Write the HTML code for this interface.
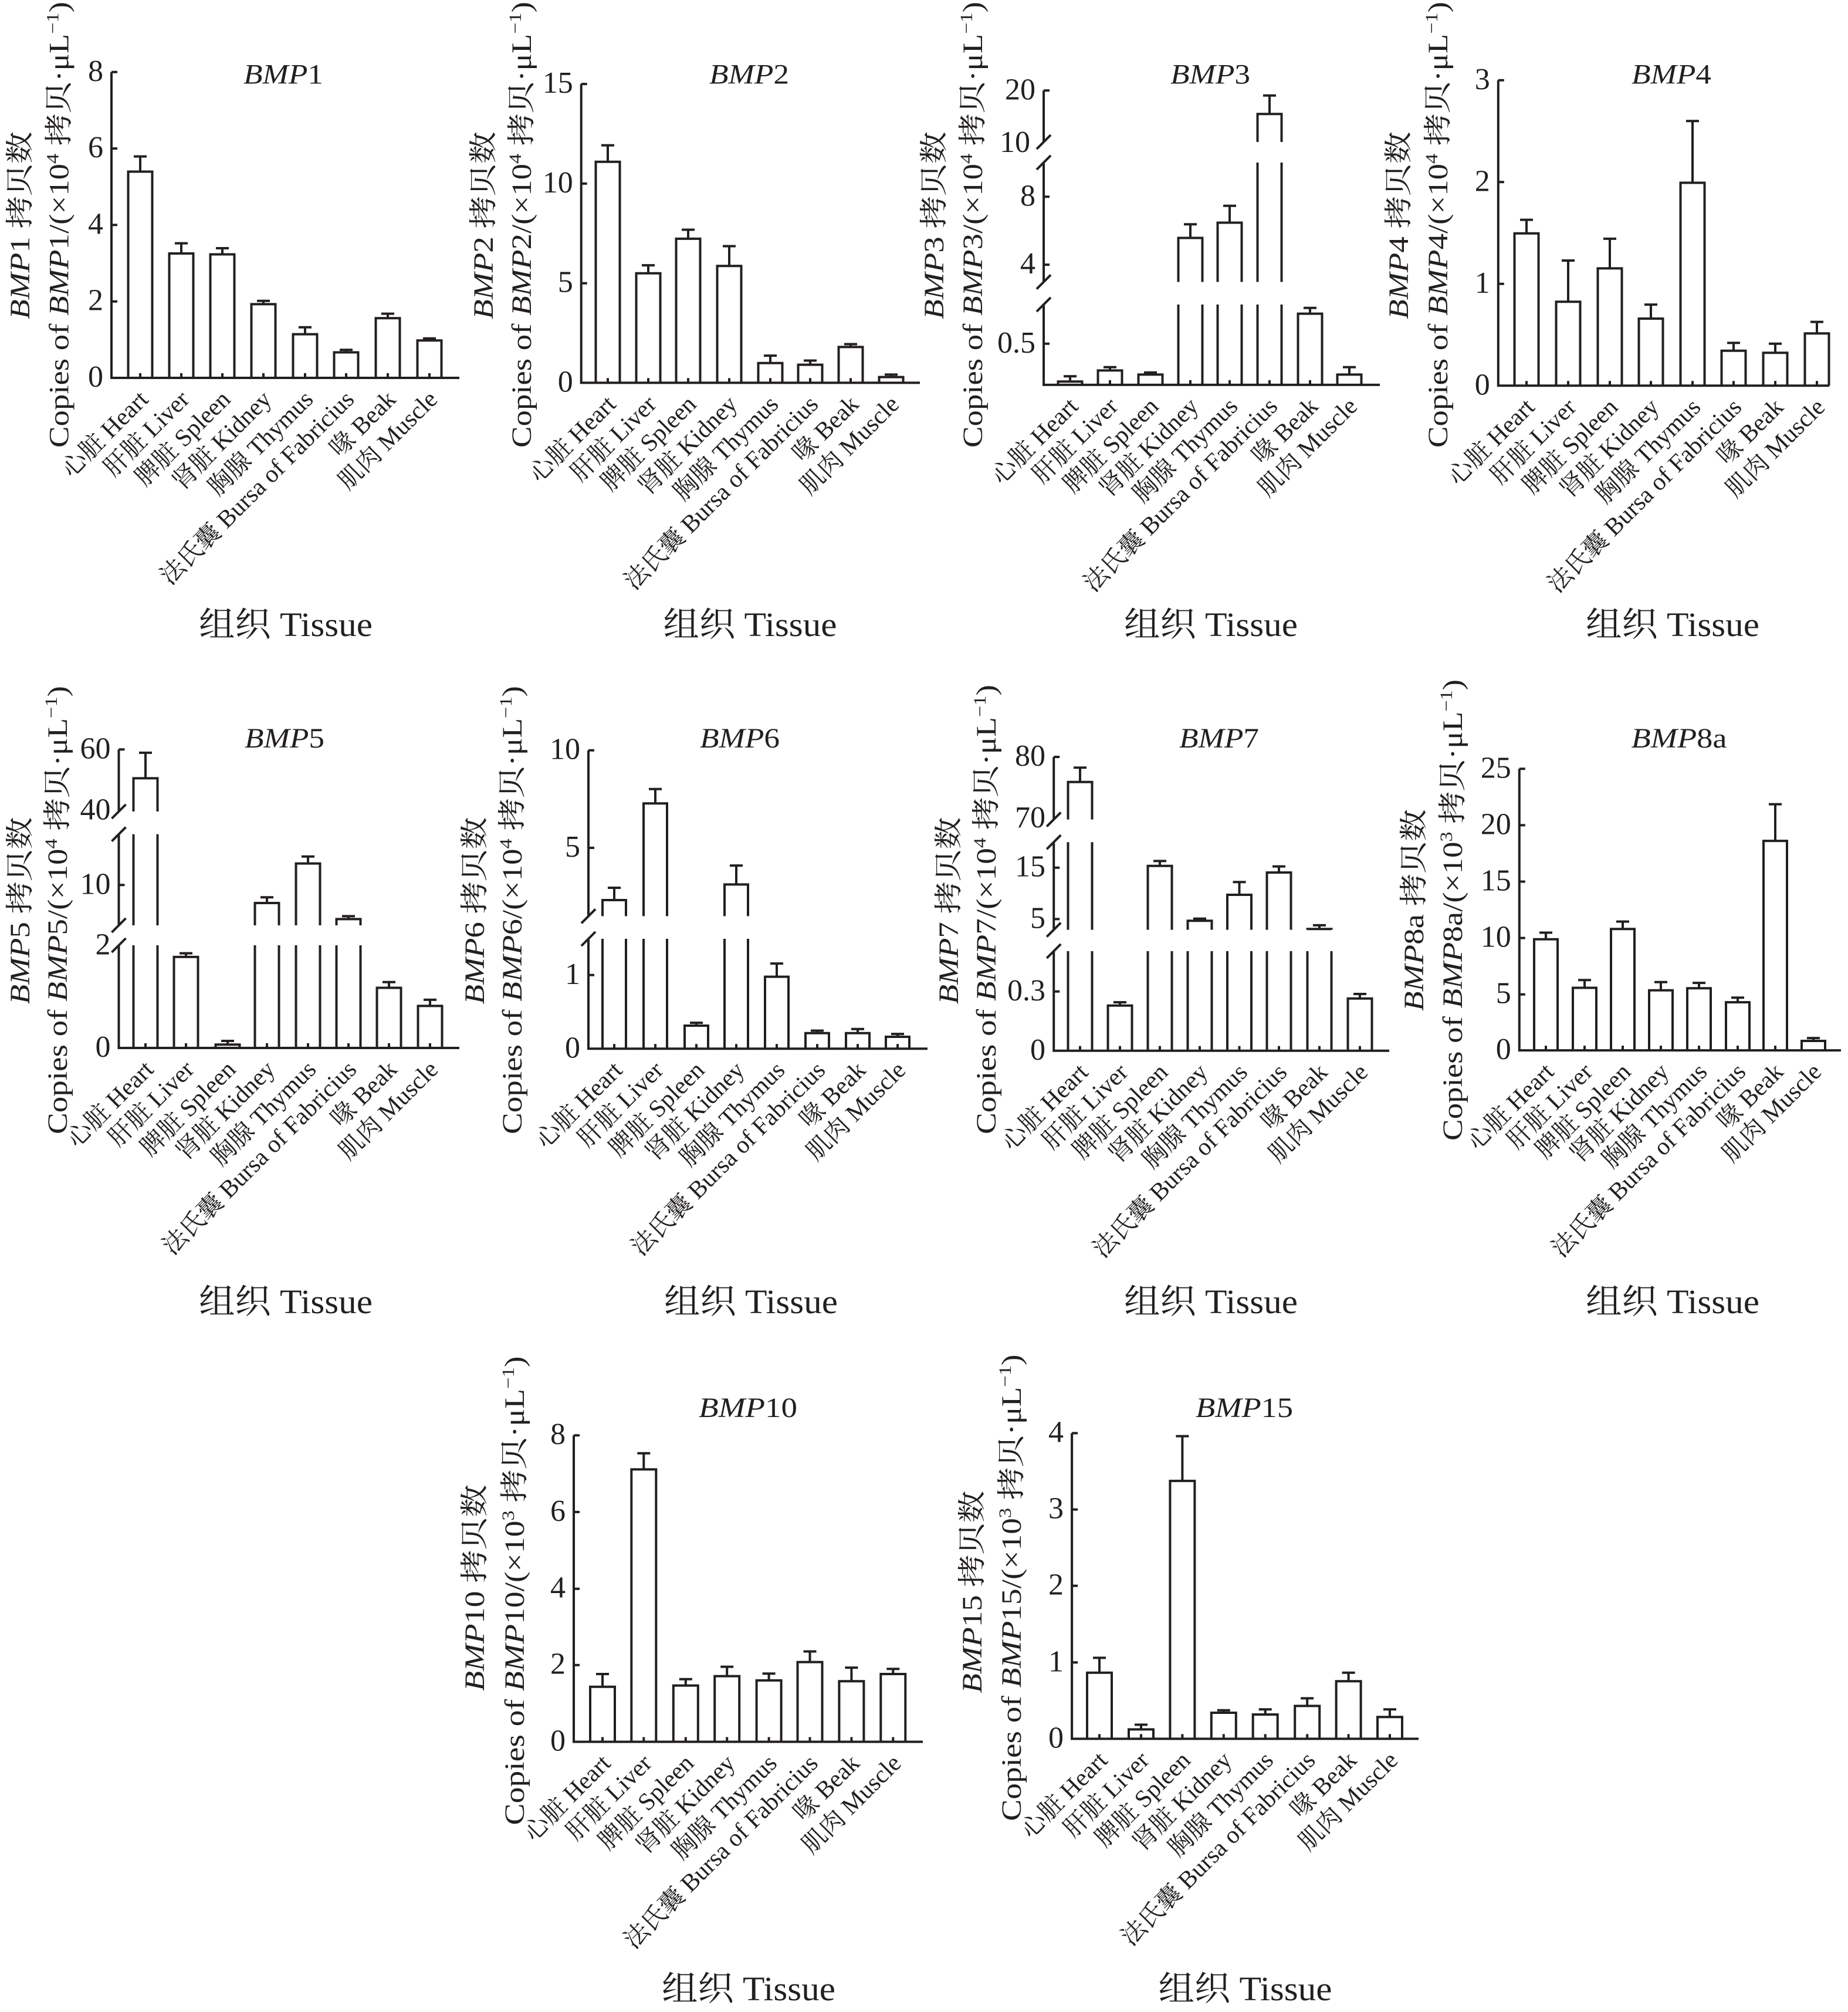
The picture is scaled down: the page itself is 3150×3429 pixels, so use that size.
<!DOCTYPE html>
<html><head><meta charset="utf-8"><style>
html,body{margin:0;padding:0;background:#fff}
svg{display:block}
text{fill:#231f20;font-family:"Liberation Serif","Noto Serif CJK SC",serif}
.t{font-size:52px}
.c{font-size:42px}
.ti{font-size:48px}
.ts{font-size:58px}
.y{font-size:48px}
.s{font-size:30px}
.i{font-style:italic}
path{stroke:#231f20;stroke-width:4;fill:none}
</style></head><body>
<svg width="3150" height="3429" viewBox="0 0 3150 3429" xmlns="http://www.w3.org/2000/svg">
<rect width="3150" height="3429" fill="#fff"/>

<!-- ============ BMP1 ============ -->
<path d="M190 122.8V644M188 644H783M190 122.8H200M190 253.1H200M190 383.4H200M190 513.7H200"/>
<path d="M218.5 644V292.5H259.5V644M239 292.5V266.6M228 266.6H250M239 644V636M288.5 644V432H329.5V644M309 432V414.6M298 414.6H320M309 644V636M358.5 644V433.5H399.5V644M379 433.5V423M368 423H390M379 644V636M428.5 644V518.4H469.5V644M449 518.4V512.8M438 512.8H460M449 644V636M499.5 644V569.6H540.5V644M520 569.6V557.7M509 557.7H531M520 644V636M569.5 644V600.5H610.5V644M590 600.5V596.3M579 596.3H601M590 644V636M640.5 644V542.3H681.5V644M661 542.3V534.6M650 534.6H672M661 644V636M711.5 644V580.2H752.5V644M732 580.2V576.7M721 576.7H743M732 644V636"/>
<g class="t" text-anchor="end"><text x="176" y="137.8">8</text><text x="176" y="268.1">6</text><text x="176" y="398.4">4</text><text x="176" y="528.7">2</text><text x="176" y="659">0</text></g>
<text class="ti" x="483" y="142.4" text-anchor="middle" textLength="136" lengthAdjust="spacingAndGlyphs"><tspan class="i">BMP</tspan>1</text>
<text class="y" transform="translate(116.5 383) rotate(-90)" text-anchor="middle" textLength="760" lengthAdjust="spacingAndGlyphs">Copies of <tspan class="i">BMP</tspan>1/(×10<tspan class="s" dy="-17">4</tspan><tspan dy="17"> 拷贝·μL</tspan><tspan class="s" dy="-17">−1</tspan><tspan dy="17">)</tspan></text>
<text class="y" transform="translate(50 384) rotate(-90)" text-anchor="middle" textLength="320" lengthAdjust="spacingAndGlyphs"><tspan class="i">BMP</tspan>1 拷贝数</text>
<g class="c" text-anchor="end">
<text transform="translate(255 683) rotate(-45)">心脏 Heart</text>
<text transform="translate(325 683) rotate(-45)">肝脏 Liver</text>
<text transform="translate(395 683) rotate(-45)">脾脏 Spleen</text>
<text transform="translate(465 683) rotate(-45)">肾脏 Kidney</text>
<text transform="translate(536 683) rotate(-45)">胸腺 Thymus</text>
<text transform="translate(606 683) rotate(-45)">法氏囊 Bursa of Fabricius</text>
<text transform="translate(677 683) rotate(-45)">喙 Beak</text>
<text transform="translate(748 683) rotate(-45)">肌肉 Muscle</text>
</g>
<text class="ts" x="487" y="1084" text-anchor="middle" textLength="296" lengthAdjust="spacingAndGlyphs">组织 Tissue</text>

<!-- ============ BMP2 ============ -->
<path d="M990.7 143.1V652.4M988.7 652.4H1568M990.7 143.1H1000.7M990.7 312.9H1000.7M990.7 482.7H1000.7"/>
<path d="M1015.5 652.4V275.7H1056.5V652.4M1036 275.7V247.6M1025 247.6H1047M1036 652.4V644.4M1084.5 652.4V465.7H1125.5V652.4M1105 465.7V452.1M1094 452.1H1116M1105 652.4V644.4M1152.5 652.4V406.9H1193.5V652.4M1173 406.9V391.5M1162 391.5H1184M1173 652.4V644.4M1222.5 652.4V453.2H1263.5V652.4M1243 453.2V419.5M1232 419.5H1254M1243 652.4V644.4M1292.5 652.4V618.7H1333.5V652.4M1313 618.7V606.1M1302 606.1H1324M1313 652.4V644.4M1360.5 652.4V621.6H1401.5V652.4M1381 621.6V614.5M1370 614.5H1392M1381 652.4V644.4M1429.5 652.4V591.4H1470.5V652.4M1450 591.4V586.5M1439 586.5H1461M1450 652.4V644.4M1498.5 652.4V642.6H1539.5V652.4M1519 642.6V638.4M1508 638.4H1530"/>
<g class="t" text-anchor="end"><text x="976.7" y="158.1">15</text><text x="976.7" y="327.9">10</text><text x="976.7" y="497.7">5</text><text x="976.7" y="667.4">0</text></g>
<text class="ti" x="1277" y="142.4" text-anchor="middle" textLength="136" lengthAdjust="spacingAndGlyphs"><tspan class="i">BMP</tspan>2</text>
<text class="y" transform="translate(905 383) rotate(-90)" text-anchor="middle" textLength="760" lengthAdjust="spacingAndGlyphs">Copies of <tspan class="i">BMP</tspan>2/(×10<tspan class="s" dy="-17">4</tspan><tspan dy="17"> 拷贝·μL</tspan><tspan class="s" dy="-17">−1</tspan><tspan dy="17">)</tspan></text>
<text class="y" transform="translate(840 384) rotate(-90)" text-anchor="middle" textLength="320" lengthAdjust="spacingAndGlyphs"><tspan class="i">BMP</tspan>2 拷贝数</text>
<g class="c" text-anchor="end">
<text transform="translate(1052 691.4) rotate(-45)">心脏 Heart</text>
<text transform="translate(1121 691.4) rotate(-45)">肝脏 Liver</text>
<text transform="translate(1189 691.4) rotate(-45)">脾脏 Spleen</text>
<text transform="translate(1259 691.4) rotate(-45)">肾脏 Kidney</text>
<text transform="translate(1329 691.4) rotate(-45)">胸腺 Thymus</text>
<text transform="translate(1397 691.4) rotate(-45)">法氏囊 Bursa of Fabricius</text>
<text transform="translate(1466 691.4) rotate(-45)">喙 Beak</text>
<text transform="translate(1535 691.4) rotate(-45)">肌肉 Muscle</text>
</g>
<text class="ts" x="1278.5" y="1084" text-anchor="middle" textLength="296" lengthAdjust="spacingAndGlyphs">组织 Tissue</text>

<!-- ============ BMP3 ============ -->
<path d="M1779 154.3V242M1779 277V480.5M1779 519V655.9M1777 655.9H2352M1779 154.3H1789M1779 335.3H1789M1779 451.1H1789M1779 585.8H1789M1767 254L1791 230M1767 289L1791 265M1767 492.5L1791 468.5M1767 531L1791 507"/>
<path d="M1803.5 655.9V650.3H1844.5V655.9M1824 650.3V641.2M1813 641.2H1835M1871.5 655.9V631.4H1912.5V655.9M1892 631.4V625.8M1881 625.8H1903M1892 655.9V647.9M1940.5 655.9V638.4H1981.5V655.9M1961 638.4V634.9M1950 634.9H1972M2008.5 655.9V519M2049.5 655.9V519M2008.5 480.5V405.5H2049.5V480.5M2029 405.5V382.3M2018 382.3H2040M2029 655.9V647.9M2075.5 655.9V519M2116.5 655.9V519M2075.5 480.5V379.5H2116.5V480.5M2096 379.5V350.8M2085 350.8H2107M2096 655.9V647.9M2143.5 655.9V519M2184.5 655.9V519M2143.5 480.5V277M2184.5 480.5V277M2143.5 242V194.3H2184.5V242M2164 194.3V162.8M2153 162.8H2175M2164 655.9V647.9M2212.5 655.9V534.6H2253.5V655.9M2233 534.6V524.7M2222 524.7H2244M2233 655.9V647.9M2279.5 655.9V638.4H2320.5V655.9M2300 638.4V625.8M2289 625.8H2311"/>
<g class="t" text-anchor="end"><text x="1765" y="169.3">20</text><text x="1756" y="259">10</text><text x="1765" y="350.3">8</text><text x="1765" y="466.1">4</text><text x="1765" y="600.8">0.5</text></g>
<text class="ti" x="2063" y="142.4" text-anchor="middle" textLength="136" lengthAdjust="spacingAndGlyphs"><tspan class="i">BMP</tspan>3</text>
<text class="y" transform="translate(1674 383) rotate(-90)" text-anchor="middle" textLength="760" lengthAdjust="spacingAndGlyphs">Copies of <tspan class="i">BMP</tspan>3/(×10<tspan class="s" dy="-17">4</tspan><tspan dy="17"> 拷贝·μL</tspan><tspan class="s" dy="-17">−1</tspan><tspan dy="17">)</tspan></text>
<text class="y" transform="translate(1608 384) rotate(-90)" text-anchor="middle" textLength="320" lengthAdjust="spacingAndGlyphs"><tspan class="i">BMP</tspan>3 拷贝数</text>
<g class="c" text-anchor="end">
<text transform="translate(1840 694.9) rotate(-45)">心脏 Heart</text>
<text transform="translate(1908 694.9) rotate(-45)">肝脏 Liver</text>
<text transform="translate(1977 694.9) rotate(-45)">脾脏 Spleen</text>
<text transform="translate(2045 694.9) rotate(-45)">肾脏 Kidney</text>
<text transform="translate(2112 694.9) rotate(-45)">胸腺 Thymus</text>
<text transform="translate(2180 694.9) rotate(-45)">法氏囊 Bursa of Fabricius</text>
<text transform="translate(2249 694.9) rotate(-45)">喙 Beak</text>
<text transform="translate(2316 694.9) rotate(-45)">肌肉 Muscle</text>
</g>
<text class="ts" x="2064" y="1084" text-anchor="middle" textLength="296" lengthAdjust="spacingAndGlyphs">组织 Tissue</text>

<!-- ============ BMP4 ============ -->
<path d="M2553.8 136.8V657.3M2551.8 657.3H3118M2553.8 136.8H2563.8M2553.8 310.3H2563.8M2553.8 483.8H2563.8"/>
<path d="M2581.5 657.3V397.8H2622.5V657.3M2602 397.8V374.6M2591 374.6H2613M2602 657.3V649.3M2652.5 657.3V514.2H2693.5V657.3M2673 514.2V444M2662 444H2684M2673 657.3V649.3M2723.5 657.3V457.4H2764.5V657.3M2744 457.4V406.9M2733 406.9H2755M2744 657.3V649.3M2793.5 657.3V543H2834.5V657.3M2814 543V519.1M2803 519.1H2825M2814 657.3V649.3M2864.5 657.3V311.5H2905.5V657.3M2885 311.5V206.2M2874 206.2H2896M2885 657.3V649.3M2934.5 657.3V597.7H2975.5V657.3M2955 597.7V584.4M2944 584.4H2966M2955 657.3V649.3M3005.5 657.3V601.2H3046.5V657.3M3026 601.2V585.8M3015 585.8H3037M3026 657.3V649.3M3076.5 657.3V568.2H3117.5V657.3M3097 568.2V548.6M3086 548.6H3108M3097 657.3V649.3"/>
<g class="t" text-anchor="end"><text x="2539.8" y="151.8">3</text><text x="2539.8" y="325.3">2</text><text x="2539.8" y="498.8">1</text><text x="2539.8" y="672.3">0</text></g>
<text class="ti" x="2849" y="142.4" text-anchor="middle" textLength="136" lengthAdjust="spacingAndGlyphs"><tspan class="i">BMP</tspan>4</text>
<text class="y" transform="translate(2467 383) rotate(-90)" text-anchor="middle" textLength="760" lengthAdjust="spacingAndGlyphs">Copies of <tspan class="i">BMP</tspan>4/(×10<tspan class="s" dy="-17">4</tspan><tspan dy="17"> 拷贝·μL</tspan><tspan class="s" dy="-17">−1</tspan><tspan dy="17">)</tspan></text>
<text class="y" transform="translate(2400 384) rotate(-90)" text-anchor="middle" textLength="320" lengthAdjust="spacingAndGlyphs"><tspan class="i">BMP</tspan>4 拷贝数</text>
<g class="c" text-anchor="end">
<text transform="translate(2618 696.3) rotate(-45)">心脏 Heart</text>
<text transform="translate(2689 696.3) rotate(-45)">肝脏 Liver</text>
<text transform="translate(2760 696.3) rotate(-45)">脾脏 Spleen</text>
<text transform="translate(2830 696.3) rotate(-45)">肾脏 Kidney</text>
<text transform="translate(2901 696.3) rotate(-45)">胸腺 Thymus</text>
<text transform="translate(2971 696.3) rotate(-45)">法氏囊 Bursa of Fabricius</text>
<text transform="translate(3042 696.3) rotate(-45)">喙 Beak</text>
<text transform="translate(3113 696.3) rotate(-45)">肌肉 Muscle</text>
</g>
<text class="ts" x="2851" y="1084" text-anchor="middle" textLength="296" lengthAdjust="spacingAndGlyphs">组织 Tissue</text>

<!-- ============ BMP5 ============ -->
<path d="M202.5 1277.3V1383M202.5 1421.7V1577M202.5 1611V1786M200.5 1786H783M202.5 1277.3H212.5M202.5 1508.3H212.5M190.5 1395L214.5 1371M190.5 1433.7L214.5 1409.7M190.5 1589L214.5 1565M190.5 1623L214.5 1599"/>
<path d="M227.5 1786V1611M268.5 1786V1611M227.5 1577V1421.7M268.5 1577V1421.7M227.5 1383V1326.4H268.5V1383M248 1326.4V1282.9M237 1282.9H259M248 1786V1778M296.5 1786V1630.9H337.5V1786M317 1630.9V1624.6M306 1624.6H328M317 1786V1778M367.5 1786V1780.3H408.5V1786M388 1780.3V1774M377 1774H399M434.5 1786V1611M475.5 1786V1611M434.5 1577V1539H475.5V1577M455 1539V1529.2M444 1529.2H466M455 1786V1778M504.5 1786V1611M545.5 1786V1611M504.5 1577V1471.6H545.5V1577M525 1471.6V1459.7M514 1459.7H536M525 1786V1778M573.5 1786V1611M614.5 1786V1611M573.5 1577V1566.4H614.5V1577M594 1566.4V1561.4M583 1561.4H605M594 1786V1778M642.5 1786V1683.5H683.5V1786M663 1683.5V1673.7M652 1673.7H674M663 1786V1778M712.5 1786V1714.4H753.5V1786M733 1714.4V1703.9M722 1703.9H744M733 1786V1778"/>
<g class="t" text-anchor="end"><text x="188.5" y="1292.3">60</text><text x="188.5" y="1396.7">40</text><text x="188.5" y="1523.3">10</text><text x="188.5" y="1626.7">2</text><text x="188.5" y="1801">0</text></g>
<text class="ti" x="485" y="1274" text-anchor="middle" textLength="136" lengthAdjust="spacingAndGlyphs"><tspan class="i">BMP</tspan>5</text>
<text class="y" transform="translate(114 1551) rotate(-90)" text-anchor="middle" textLength="764" lengthAdjust="spacingAndGlyphs">Copies of <tspan class="i">BMP</tspan>5/(×10<tspan class="s" dy="-17">4</tspan><tspan dy="17"> 拷贝·μL</tspan><tspan class="s" dy="-17">−1</tspan><tspan dy="17">)</tspan></text>
<text class="y" transform="translate(50 1552) rotate(-90)" text-anchor="middle" textLength="319" lengthAdjust="spacingAndGlyphs"><tspan class="i">BMP</tspan>5 拷贝数</text>
<g class="c" text-anchor="end">
<text transform="translate(264 1825) rotate(-45)">心脏 Heart</text>
<text transform="translate(333 1825) rotate(-45)">肝脏 Liver</text>
<text transform="translate(404 1825) rotate(-45)">脾脏 Spleen</text>
<text transform="translate(471 1825) rotate(-45)">肾脏 Kidney</text>
<text transform="translate(541 1825) rotate(-45)">胸腺 Thymus</text>
<text transform="translate(610 1825) rotate(-45)">法氏囊 Bursa of Fabricius</text>
<text transform="translate(679 1825) rotate(-45)">喙 Beak</text>
<text transform="translate(749 1825) rotate(-45)">肌肉 Muscle</text>
</g>
<text class="ts" x="487" y="2238" text-anchor="middle" textLength="296" lengthAdjust="spacingAndGlyphs">组织 Tissue</text>

<!-- ============ BMP6 ============ -->
<path d="M1003 1278.7V1561.4M1003 1600V1787.3M1001 1787.3H1581M1003 1278.7H1013M1003 1445H1013M1003 1661.8H1013M991 1573.4L1015 1549.4M991 1612L1015 1588"/>
<path d="M1027 1787.3V1600M1067 1787.3V1600M1027 1561.4V1534H1067V1561.4M1047 1534V1513M1036 1513H1058M1047 1787.3V1779.3M1097 1787.3V1600M1137 1787.3V1600M1097 1561.4V1369.2H1137V1561.4M1117 1369.2V1344.7M1106 1344.7H1128M1117 1787.3V1779.3M1167 1787.3V1748H1207V1787.3M1187 1748V1743.1M1176 1743.1H1198M1187 1787.3V1779.3M1235 1787.3V1600M1275 1787.3V1600M1235 1561.4V1507.4H1275V1561.4M1255 1507.4V1475.1M1244 1475.1H1266M1255 1787.3V1779.3M1304 1787.3V1664.6H1344V1787.3M1324 1664.6V1642.1M1313 1642.1H1335M1324 1787.3V1779.3M1373 1787.3V1760.7H1413V1787.3M1393 1760.7V1756.5M1382 1756.5H1404M1393 1787.3V1779.3M1442 1787.3V1760.7H1482V1787.3M1462 1760.7V1753.7M1451 1753.7H1473M1462 1787.3V1779.3M1510 1787.3V1767H1550V1787.3M1530 1767V1762.1M1519 1762.1H1541M1530 1787.3V1779.3"/>
<g class="t" text-anchor="end"><text x="989" y="1293.7">10</text><text x="989" y="1460">5</text><text x="989" y="1676.8">1</text><text x="989" y="1802.3">0</text></g>
<text class="ti" x="1261" y="1274" text-anchor="middle" textLength="136" lengthAdjust="spacingAndGlyphs"><tspan class="i">BMP</tspan>6</text>
<text class="y" transform="translate(889 1551) rotate(-90)" text-anchor="middle" textLength="764" lengthAdjust="spacingAndGlyphs">Copies of <tspan class="i">BMP</tspan>6/(×10<tspan class="s" dy="-17">4</tspan><tspan dy="17"> 拷贝·μL</tspan><tspan class="s" dy="-17">−1</tspan><tspan dy="17">)</tspan></text>
<text class="y" transform="translate(825 1552) rotate(-90)" text-anchor="middle" textLength="319" lengthAdjust="spacingAndGlyphs"><tspan class="i">BMP</tspan>6 拷贝数</text>
<g class="c" text-anchor="end">
<text transform="translate(1063 1826.3) rotate(-45)">心脏 Heart</text>
<text transform="translate(1133 1826.3) rotate(-45)">肝脏 Liver</text>
<text transform="translate(1203 1826.3) rotate(-45)">脾脏 Spleen</text>
<text transform="translate(1271 1826.3) rotate(-45)">肾脏 Kidney</text>
<text transform="translate(1340 1826.3) rotate(-45)">胸腺 Thymus</text>
<text transform="translate(1409 1826.3) rotate(-45)">法氏囊 Bursa of Fabricius</text>
<text transform="translate(1478 1826.3) rotate(-45)">喙 Beak</text>
<text transform="translate(1546 1826.3) rotate(-45)">肌肉 Muscle</text>
</g>
<text class="ts" x="1280" y="2238" text-anchor="middle" textLength="296" lengthAdjust="spacingAndGlyphs">组织 Tissue</text>

<!-- ============ BMP7 ============ -->
<path d="M1796.2 1290V1396.6M1796.2 1435.2V1584.6M1796.2 1621V1790.8M1794.2 1790.8H2368M1796.2 1290H1806.2M1796.2 1478.7H1806.2M1796.2 1566.4H1806.2M1796.2 1689.8H1806.2M1784.2 1408.6L1808.2 1384.6M1784.2 1447.2L1808.2 1423.2M1784.2 1596.6L1808.2 1572.6M1784.2 1633L1808.2 1609"/>
<path d="M1820.5 1790.8V1621M1861.5 1790.8V1621M1820.5 1584.6V1435.2M1861.5 1584.6V1435.2M1820.5 1396.6V1332.7H1861.5V1396.6M1841 1332.7V1308.2M1830 1308.2H1852M1841 1790.8V1782.8M1888.5 1790.8V1713.7H1929.5V1790.8M1909 1713.7V1708.1M1898 1708.1H1920M1909 1790.8V1782.8M1956.5 1790.8V1621M1997.5 1790.8V1621M1956.5 1584.6V1475.8H1997.5V1584.6M1977 1475.8V1467.4M1966 1467.4H1988M1977 1790.8V1782.8M2024.5 1790.8V1621M2065.5 1790.8V1621M2024.5 1584.6V1569.2H2065.5V1584.6M2045 1569.2V1565.6M2034 1565.6H2056M2045 1790.8V1782.8M2092 1790.8V1621M2133 1790.8V1621M2092 1584.6V1525H2133V1584.6M2112.5 1525V1503.2M2101.5 1503.2H2123.5M2112.5 1790.8V1782.8M2159.5 1790.8V1621M2200.5 1790.8V1621M2159.5 1584.6V1487H2200.5V1584.6M2180 1487V1476.6M2169 1476.6H2191M2180 1790.8V1782.8M2228.5 1790.8V1621M2269.5 1790.8V1621M2228.5 1584.6V1583.2H2269.5V1584.6M2249 1583.2V1576.9M2238 1576.9H2260M2249 1790.8V1782.8M2297.5 1790.8V1701.7H2338.5V1790.8M2318 1701.7V1694M2307 1694H2329M2318 1790.8V1782.8"/>
<g class="t" text-anchor="end"><text x="1782" y="1305">80</text><text x="1782" y="1410">70</text><text x="1782" y="1493.7">15</text><text x="1782" y="1581.4">5</text><text x="1782" y="1704.8">0.3</text><text x="1782" y="1805.8">0</text></g>
<text class="ti" x="2078" y="1274" text-anchor="middle" textLength="136" lengthAdjust="spacingAndGlyphs"><tspan class="i">BMP</tspan>7</text>
<text class="y" transform="translate(1697 1550) rotate(-90)" text-anchor="middle" textLength="766" lengthAdjust="spacingAndGlyphs">Copies of <tspan class="i">BMP</tspan>7/(×10<tspan class="s" dy="-17">4</tspan><tspan dy="17"> 拷贝·μL</tspan><tspan class="s" dy="-17">−1</tspan><tspan dy="17">)</tspan></text>
<text class="y" transform="translate(1633 1552) rotate(-90)" text-anchor="middle" textLength="319" lengthAdjust="spacingAndGlyphs"><tspan class="i">BMP</tspan>7 拷贝数</text>
<g class="c" text-anchor="end">
<text transform="translate(1857 1829.8) rotate(-45)">心脏 Heart</text>
<text transform="translate(1925 1829.8) rotate(-45)">肝脏 Liver</text>
<text transform="translate(1993 1829.8) rotate(-45)">脾脏 Spleen</text>
<text transform="translate(2061 1829.8) rotate(-45)">肾脏 Kidney</text>
<text transform="translate(2128.5 1829.8) rotate(-45)">胸腺 Thymus</text>
<text transform="translate(2196 1829.8) rotate(-45)">法氏囊 Bursa of Fabricius</text>
<text transform="translate(2265 1829.8) rotate(-45)">喙 Beak</text>
<text transform="translate(2334 1829.8) rotate(-45)">肌肉 Muscle</text>
</g>
<text class="ts" x="2064" y="2238" text-anchor="middle" textLength="296" lengthAdjust="spacingAndGlyphs">组织 Tissue</text>

<!-- ============ BMP8a ============ -->
<path d="M2589.8 1310.3V1790.1M2587.8 1790.1H3138M2589.8 1310.3H2599.8M2589.8 1406.4H2599.8M2589.8 1502.5H2599.8M2589.8 1598.6H2599.8M2589.8 1694.7H2599.8"/>
<path d="M2615 1790.1V1600.7H2655V1790.1M2635 1600.7V1589.5M2624 1589.5H2646M2635 1790.1V1782.1M2681 1790.1V1683.5H2721V1790.1M2701 1683.5V1670.2M2690 1670.2H2712M2701 1790.1V1782.1M2746 1790.1V1583.2H2786V1790.1M2766 1583.2V1570.6M2755 1570.6H2777M2766 1790.1V1782.1M2811 1790.1V1687.7H2851V1790.1M2831 1687.7V1673.7M2820 1673.7H2842M2831 1790.1V1782.1M2876 1790.1V1684.2H2916V1790.1M2896 1684.2V1675.1M2885 1675.1H2907M2896 1790.1V1782.1M2942 1790.1V1708.1H2982V1790.1M2962 1708.1V1700.3M2951 1700.3H2973M2962 1790.1V1782.1M3006 1790.1V1433.1H3046V1790.1M3026 1433.1V1370.6M3015 1370.6H3037M3026 1790.1V1782.1M3071 1790.1V1774H3111V1790.1M3091 1774V1769.1M3080 1769.1H3102"/>
<g class="t" text-anchor="end"><text x="2575.8" y="1325.3">25</text><text x="2575.8" y="1421.4">20</text><text x="2575.8" y="1517.5">15</text><text x="2575.8" y="1613.6">10</text><text x="2575.8" y="1709.7">5</text><text x="2575.8" y="1805.1">0</text></g>
<text class="ti" x="2862" y="1274" text-anchor="middle" textLength="163" lengthAdjust="spacingAndGlyphs"><tspan class="i">BMP</tspan>8a</text>
<text class="y" transform="translate(2492 1551) rotate(-90)" text-anchor="middle" textLength="786" lengthAdjust="spacingAndGlyphs">Copies of <tspan class="i">BMP</tspan>8a/(×10<tspan class="s" dy="-17">3</tspan><tspan dy="17"> 拷贝·μL</tspan><tspan class="s" dy="-17">−1</tspan><tspan dy="17">)</tspan></text>
<text class="y" transform="translate(2426 1551) rotate(-90)" text-anchor="middle" textLength="344" lengthAdjust="spacingAndGlyphs"><tspan class="i">BMP</tspan>8a 拷贝数</text>
<g class="c" text-anchor="end">
<text transform="translate(2651 1829.1) rotate(-45)">心脏 Heart</text>
<text transform="translate(2717 1829.1) rotate(-45)">肝脏 Liver</text>
<text transform="translate(2782 1829.1) rotate(-45)">脾脏 Spleen</text>
<text transform="translate(2847 1829.1) rotate(-45)">肾脏 Kidney</text>
<text transform="translate(2912 1829.1) rotate(-45)">胸腺 Thymus</text>
<text transform="translate(2978 1829.1) rotate(-45)">法氏囊 Bursa of Fabricius</text>
<text transform="translate(3042 1829.1) rotate(-45)">喙 Beak</text>
<text transform="translate(3107 1829.1) rotate(-45)">肌肉 Muscle</text>
</g>
<text class="ts" x="2851" y="2238" text-anchor="middle" textLength="296" lengthAdjust="spacingAndGlyphs">组织 Tissue</text>

<!-- ============ BMP10 ============ -->
<path d="M978 2446.2V2968.5M976 2968.5H1573M978 2446.2H988M978 2576.9H988M978 2707.7H988M978 2837.7H988"/>
<path d="M1006 2968.5V2874.8H1048V2968.5M1027 2874.8V2853M1016 2853H1038M1027 2968.5V2960.5M1076.3 2968.5V2504.3H1118.3V2968.5M1097.3 2504.3V2476.7M1086.3 2476.7H1108.3M1097.3 2968.5V2960.5M1147.8 2968.5V2872.6H1189.8V2968.5M1168.8 2872.6V2861.7M1157.8 2861.7H1179.8M1168.8 2968.5V2960.5M1218.2 2968.5V2856.6H1260.2V2968.5M1239.2 2856.6V2840.6M1228.2 2840.6H1250.2M1239.2 2968.5V2960.5M1289.6 2968.5V2863.9H1331.6V2968.5M1310.6 2863.9V2852.2M1299.6 2852.2H1321.6M1310.6 2968.5V2960.5M1359.5 2968.5V2832.6H1401.5V2968.5M1380.5 2832.6V2814.5M1369.5 2814.5H1391.5M1380.5 2968.5V2960.5M1430.4 2968.5V2865.3H1472.4V2968.5M1451.4 2865.3V2842.1M1440.4 2842.1H1462.4M1451.4 2968.5V2960.5M1501.3 2968.5V2853H1543.3V2968.5M1522.3 2853V2844.2M1511.3 2844.2H1533.3M1522.3 2968.5V2960.5"/>
<g class="t" text-anchor="end"><text x="964" y="2461.2">8</text><text x="964" y="2591.9">6</text><text x="964" y="2722.7">4</text><text x="964" y="2852.7">2</text><text x="964" y="2983.5">0</text></g>
<text class="ti" x="1275" y="2415" text-anchor="middle" textLength="168" lengthAdjust="spacingAndGlyphs"><tspan class="i">BMP</tspan>10</text>
<text class="y" transform="translate(893 2711) rotate(-90)" text-anchor="middle" textLength="799" lengthAdjust="spacingAndGlyphs">Copies of <tspan class="i">BMP</tspan>10/(×10<tspan class="s" dy="-17">3</tspan><tspan dy="17"> 拷贝·μL</tspan><tspan class="s" dy="-17">−1</tspan><tspan dy="17">)</tspan></text>
<text class="y" transform="translate(825 2706) rotate(-90)" text-anchor="middle" textLength="352" lengthAdjust="spacingAndGlyphs"><tspan class="i">BMP</tspan>10 拷贝数</text>
<g class="c" text-anchor="end">
<text transform="translate(1043 3007.5) rotate(-45)">心脏 Heart</text>
<text transform="translate(1113.3 3007.5) rotate(-45)">肝脏 Liver</text>
<text transform="translate(1184.8 3007.5) rotate(-45)">脾脏 Spleen</text>
<text transform="translate(1255.2 3007.5) rotate(-45)">肾脏 Kidney</text>
<text transform="translate(1326.6 3007.5) rotate(-45)">胸腺 Thymus</text>
<text transform="translate(1396.5 3007.5) rotate(-45)">法氏囊 Bursa of Fabricius</text>
<text transform="translate(1467.4 3007.5) rotate(-45)">喙 Beak</text>
<text transform="translate(1538.3 3007.5) rotate(-45)">肌肉 Muscle</text>
</g>
<text class="ts" x="1276" y="3409" text-anchor="middle" textLength="296" lengthAdjust="spacingAndGlyphs">组织 Tissue</text>

<!-- ============ BMP15 ============ -->
<path d="M1827.1 2442.5V2963.4M1825.1 2963.4H2418M1827.1 2442.5H1837.1M1827.1 2572.6H1837.1M1827.1 2702.6H1837.1M1827.1 2833.3H1837.1"/>
<path d="M1853 2963.4V2850.8H1895V2963.4M1874 2850.8V2825.4M1863 2825.4H1885M1874 2963.4V2955.4M1924 2963.4V2947.4H1966V2963.4M1945 2947.4V2939.4M1934 2939.4H1956M1945 2963.4V2955.4M1994.4 2963.4V2523.9H2036.4V2963.4M2015.4 2523.9V2447.6M2004.4 2447.6H2026.4M2015.4 2963.4V2955.4M2064.8 2963.4V2919H2106.8V2963.4M2085.8 2919V2914.7M2074.8 2914.7H2096.8M2085.8 2963.4V2955.4M2135.7 2963.4V2922H2177.7V2963.4M2156.7 2922V2913.2M2145.7 2913.2H2167.7M2156.7 2963.4V2955.4M2207.2 2963.4V2907.4H2249.2V2963.4M2228.2 2907.4V2894.4M2217.2 2894.4H2239.2M2228.2 2963.4V2955.4M2277.6 2963.4V2865.3H2319.6V2963.4M2298.6 2865.3V2850.8M2287.6 2850.8H2309.6M2298.6 2963.4V2955.4M2348 2963.4V2926.3H2390V2963.4M2369 2926.3V2913.2M2358 2913.2H2380M2369 2963.4V2955.4"/>
<g class="t" text-anchor="end"><text x="1813" y="2457.5">4</text><text x="1813" y="2587.6">3</text><text x="1813" y="2717.6">2</text><text x="1813" y="2848.3">1</text><text x="1813" y="2978.4">0</text></g>
<text class="ti" x="2121" y="2415" text-anchor="middle" textLength="166" lengthAdjust="spacingAndGlyphs"><tspan class="i">BMP</tspan>15</text>
<text class="y" transform="translate(1740 2706) rotate(-90)" text-anchor="middle" textLength="795" lengthAdjust="spacingAndGlyphs">Copies of <tspan class="i">BMP</tspan>15/(×10<tspan class="s" dy="-17">3</tspan><tspan dy="17"> 拷贝·μL</tspan><tspan class="s" dy="-17">−1</tspan><tspan dy="17">)</tspan></text>
<text class="y" transform="translate(1673 2713) rotate(-90)" text-anchor="middle" textLength="345" lengthAdjust="spacingAndGlyphs"><tspan class="i">BMP</tspan>15 拷贝数</text>
<g class="c" text-anchor="end">
<text transform="translate(1890 3002.4) rotate(-45)">心脏 Heart</text>
<text transform="translate(1961 3002.4) rotate(-45)">肝脏 Liver</text>
<text transform="translate(2031.4 3002.4) rotate(-45)">脾脏 Spleen</text>
<text transform="translate(2101.8 3002.4) rotate(-45)">肾脏 Kidney</text>
<text transform="translate(2172.7 3002.4) rotate(-45)">胸腺 Thymus</text>
<text transform="translate(2244.2 3002.4) rotate(-45)">法氏囊 Bursa of Fabricius</text>
<text transform="translate(2314.6 3002.4) rotate(-45)">喙 Beak</text>
<text transform="translate(2385 3002.4) rotate(-45)">肌肉 Muscle</text>
</g>
<text class="ts" x="2122.5" y="3409" text-anchor="middle" textLength="296" lengthAdjust="spacingAndGlyphs">组织 Tissue</text>

</svg>
</body></html>
